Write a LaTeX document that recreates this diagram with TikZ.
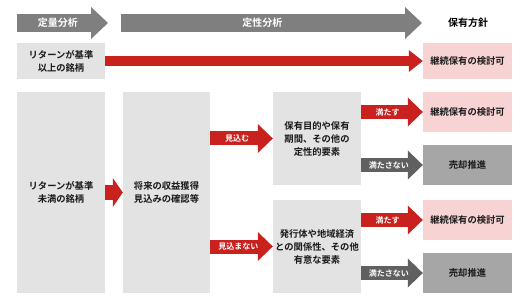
\documentclass[tikz,border=0pt]{standalone}
\usepackage{fontspec}
\setmainfont{Noto Sans CJK JP}[BoldFont={Noto Sans CJK JP Bold}]
\usetikzlibrary{arrows.meta}
\definecolor{hdgray}{HTML}{7F7F7F}
\definecolor{boxgray}{HTML}{E3E3E3}
\definecolor{keeppink}{HTML}{F8D3D3}
\definecolor{sellgray}{HTML}{A6A6A6}
\definecolor{nogray}{HTML}{606060}
\definecolor{okred}{HTML}{C9211E}

\begin{document}
\begin{tikzpicture}[x=1pt,y=-1pt,
  box/.style={fill=boxgray,inner sep=0pt,align=center,font=\fontsize{9.3}{13}\selectfont\bfseries,text=black!90},
  keepbox/.style={box,fill=keeppink,minimum width=89,minimum height=40},
  sellbox/.style={box,fill=sellgray,minimum width=89,minimum height=40},
  arrlabel/.style={text=white,font=\fontsize{8}{10}\selectfont\bfseries},
  small arrow/.style={line width=14pt,-{Triangle[length=15pt,width=29pt,line width=0pt]}},
  yes arrow/.style={small arrow,okred},
  no arrow/.style={small arrow,nogray},
  head arrow/.style={line width=18pt,hdgray,-{Triangle[length=17pt,width=32pt,line width=0pt]}}]
\useasboundingbox (0,0) rectangle (530,307);

\draw[head arrow] (17,23) -- (108,23) node[pos=0.45,text=white,font=\fontsize{10}{12}\selectfont\bfseries] {定量分析};
\draw[head arrow] (121,23) -- (422,23) node[pos=0.47,text=white,font=\fontsize{10}{12}\selectfont\bfseries] {定性分析};
\node[font=\fontsize{10}{12}\selectfont\bfseries] (policy) at (468,23) {保有方針};

\node[box,minimum width=88,minimum height=36] (high) at (61,61) {リターンが基準\\以上の銘柄};
\node[keepbox,minimum height=36] (keep0) at (467.5,61) {継続保有の検討可};
\draw[okred,line width=10pt,-{Triangle[length=14pt,width=22pt,line width=0pt]}] (high.east) -- (keep0.west);

\node[box,minimum width=88,minimum height=201] (low) at (61,192.5) {リターンが基準\\未満の銘柄};
\node[box,minimum width=87,minimum height=201] (check) at (166.5,192.5) {将来の収益獲得\\見込みの確認等};
\draw[okred,line width=15pt,-{Triangle[length=10pt,width=29pt,line width=0pt]}] (low.east) -- (check.west);

\node[box,minimum width=88,minimum height=93] (qualA) at (317,138.5) {保有目的や保有\\期間、その他の\\定性的要素};
\node[box,minimum width=88,minimum height=93] (qualB) at (317,246.5) {発行体や地域経済\\との関係性、その他\\有意な要素};
\draw[yes arrow] (check.east |- qualA.west) -- (qualA.west) node[arrlabel,pos=0.43] {見込む};
\draw[yes arrow] (check.east |- qualB.west) -- (qualB.west) node[arrlabel,pos=0.45] {見込まない};

\node[keepbox] (keepA) at (467.5,112) {継続保有の検討可};
\node[sellbox] (sellA) at (467.5,165) {売却推進};
\node[keepbox] (keepB) at (467.5,220) {継続保有の検討可};
\node[sellbox] (sellB) at (467.5,273) {売却推進};

\draw[yes arrow] (qualA.east |- keepA.west) -- (keepA.west) node[arrlabel,pos=0.43] {満たす};
\draw[no arrow] (qualA.east |- sellA.west) -- (sellA.west) node[arrlabel,pos=0.45] {満たさない};
\draw[yes arrow] (qualB.east |- keepB.west) -- (keepB.west) node[arrlabel,pos=0.43] {満たす};
\draw[no arrow] (qualB.east |- sellB.west) -- (sellB.west) node[arrlabel,pos=0.45] {満たさない};
\end{tikzpicture}
\end{document}
